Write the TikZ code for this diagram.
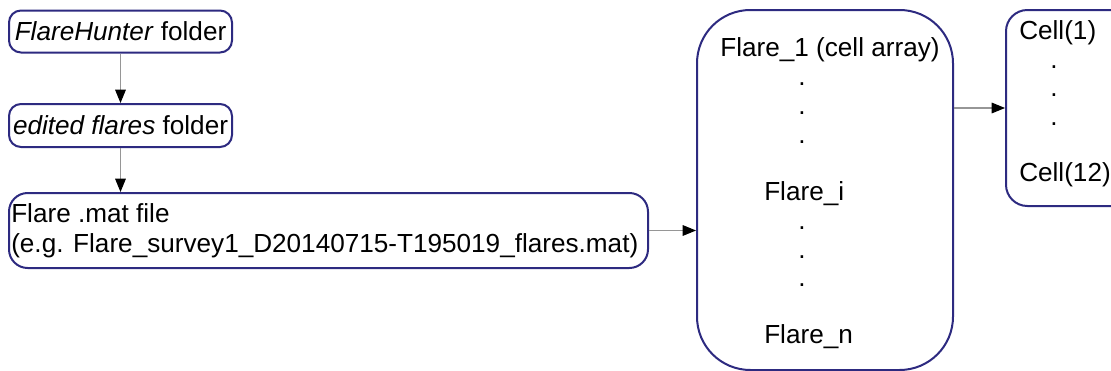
\documentclass[tikz,border=0pt]{standalone}
\usepackage{fontspec}
\setmainfont{Liberation Sans}
\usetikzlibrary{arrows.meta}
\definecolor{boxline}{RGB}{45,42,128}
\definecolor{conn}{RGB}{150,150,150}
\begin{document}
\begin{tikzpicture}[x=0.75pt,y=-0.75pt,
  every node/.style={font=\fontsize{19.6pt}{23pt}\selectfont, inner sep=0pt},
  fbox/.style={draw=boxline, line width=1.5pt, rounded corners=9pt},
  conn/.style={draw=conn, line width=0.8pt, -{Triangle[length=10pt,width=8pt,fill=black,color=black]}},
  txt/.style={anchor=west}]
\useasboundingbox (0,0) rectangle (1111,371);
\clip (0,0) rectangle (1111,371);
\fill[white] (0,0) rectangle (1111,371);
% boxes
\node[fbox, minimum width=223*0.75pt, minimum height=42*0.75pt] (fh) at (120.5,31.5) {};
\node (fht) at (fh.center) {\textit{FlareHunter} folder};
\node[fbox, minimum width=223*0.75pt, minimum height=43*0.75pt] (ef) at (120.5,125.5) {};
\node (eft) at (ef.center) {\textit{edited flares} folder};
\node[fbox, minimum width=639*0.75pt, minimum height=75*0.75pt, rounded corners=14pt] (mf) at (328.5,230.5) {};
\node[txt] (mf1) at (11,213) {Flare .mat file};
\node[txt] (mf2) at (11,246) {(e.g. Flare\_survey1\_D20140715-T195019\_flares.mat)};
\node[fbox, minimum width=256*0.75pt, minimum height=360*0.75pt, rounded corners=40pt] (big) at (825,190) {};
\node (b1) at (830,50) {Flare\_1 (cell array)};
\node (bd1) at (802,84) {.};
\node (bd2) at (802,113) {.};
\node (bd3) at (802,142) {.};
\node[txt] (bi) at (764,194) {Flare\_i};
\node (bd4) at (802,228) {.};
\node (bd5) at (802,257) {.};
\node (bd6) at (802,285) {.};
\node[txt] (bn) at (764,337) {Flare\_n};
\node[fbox, minimum width=140*0.75pt, minimum height=196*0.75pt, rounded corners=16pt] (cell) at (1076,108) {};
\node[txt] (c1) at (1019,33) {Cell(1)};
\node (cd1) at (1054,67) {.};
\node (cd2) at (1054,95) {.};
\node (cd3) at (1054,124) {.};
\node[txt] (c12) at (1019,175) {Cell(12)};
% connectors
\draw[conn] (fh.south) -- (ef.north);
\draw[conn] (ef.south) -- (ef.south |- mf.north);
\draw[conn] (mf.east) -- (mf.east -| big.west);
\draw[conn] (big.east |- cell.west) -- (cell.west);
\end{tikzpicture}
\end{document}
